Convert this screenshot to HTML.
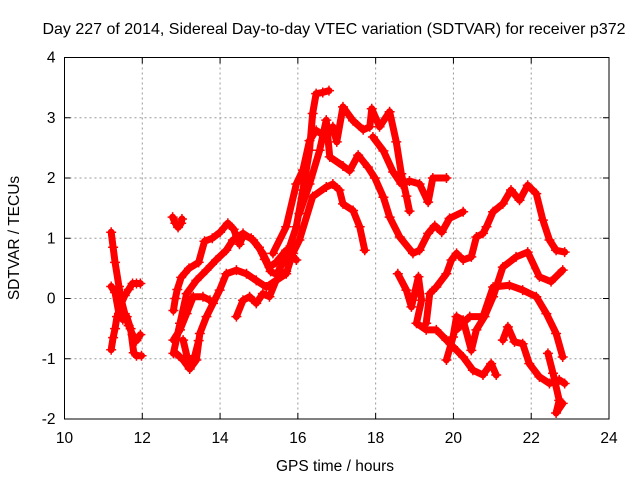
<!DOCTYPE html>
<html><head><meta charset="utf-8"><style>
body{margin:0;background:#fff;}
svg{display:block;font-family:"Liberation Sans",sans-serif;}
</style></head><body>
<svg id="chart" width="640" height="480" viewBox="0 0 640 480">
<text x="334" y="34" font-size="16" text-anchor="middle" fill="#000">Day 227 of 2014, Sidereal Day-to-day VTEC variation (SDTVAR) for receiver p372</text>
<g id="grid"></g>
<g id="series"></g>
<rect x="64.5" y="57.5" width="544.5" height="361.5" fill="none" stroke="#000" stroke-width="1"/>
<g id="xticks"></g>
<g id="yticks"></g>
<text x="335" y="471" font-size="15.5" text-anchor="middle">GPS time / hours</text>
<text transform="translate(19,238) rotate(-90)" font-size="15.5" text-anchor="middle">SDTVAR / TECUs</text>
</svg>
<script>
const xTicks=[10,12,14,16,18,20,22,24];
const yTicks=[-2,-1,0,1,2,3,4];
const traceA1=[[11.2,1.1],[11.25,0.85],[11.3,0.6],[11.4,0.2],[11.45,0.0],[11.55,-0.25],[11.65,-0.45],[11.75,-0.6],[11.85,-0.7],[11.95,-0.6]];
const traceA2=[[11.2,-0.85],[11.25,-0.65],[11.3,-0.5],[11.35,-0.3],[11.45,-0.1],[11.55,0.05],[11.65,0.15],[11.75,0.25],[11.85,0.25],[11.95,0.25]];
const traceA3=[[11.2,0.2],[11.3,0.1],[11.4,-0.25],[11.5,-0.35],[11.6,-0.3],[11.7,-0.5],[11.78,-0.9],[11.85,-0.95],[11.98,-0.95]];
const traceB=[[12.78,1.35],[12.85,1.25],[12.92,1.18],[13.0,1.25],[13.02,1.32]];
const traceC=[[12.8,-0.2],[12.85,0.0],[12.9,0.15],[13.0,0.35],[13.2,0.5],[13.45,0.6],[13.6,0.95],[13.8,1.0],[14.0,1.1],[14.2,1.25],[14.35,1.15],[14.5,0.9],[14.6,1.05],[14.8,1.0],[15.0,0.85],[15.15,0.65],[15.3,0.45],[15.45,0.4],[15.7,0.69],[15.96,1.19],[16.13,1.8],[16.3,2.46],[16.38,3.07],[16.47,3.4],[16.64,3.42],[16.8,3.45]];
const traceI=[[12.8,-0.91],[12.97,-0.41],[13.14,0.08],[13.39,0.3],[13.65,0.47],[13.9,0.64],[14.16,0.8],[14.33,0.97],[14.59,1.08],[14.85,0.97],[15.1,0.75],[15.27,0.52],[15.44,0.6],[15.7,0.8],[15.96,0.64]];
const traceJ=[[12.85,-0.9],[13.05,-1.02],[13.22,-1.17],[13.39,-1.02],[13.48,-0.58],[13.65,-0.3],[13.82,-0.08],[13.99,0.14],[14.16,0.41],[14.42,0.47],[14.68,0.41],[14.93,0.3],[15.19,0.19],[15.44,0.3],[15.7,0.41],[15.87,0.75],[16.04,0.97],[16.38,1.69],[16.73,1.85],[16.9,1.9],[17.07,1.8],[17.16,1.57],[17.42,1.46],[17.59,1.19],[17.72,0.8]];
const traceK=[[12.8,-0.69],[12.97,-0.52],[13.14,-0.25],[13.31,0.03],[13.56,0.03],[13.74,-0.03]];
const traceK2=[[13.05,-0.69],[13.2,-1.1],[13.35,-0.95],[13.45,-0.7]];
const traceL=[[14.42,-0.3],[14.59,-0.03],[14.76,0.03],[14.93,-0.08],[15.1,0.08],[15.27,0.03],[15.44,0.3],[15.7,0.45]];
const traceD=[[15.36,0.75],[15.7,1.19],[15.96,1.9],[16.13,2.13],[16.3,2.62],[16.47,2.79],[16.73,2.68],[16.9,2.85],[17.0,2.6],[17.16,3.18],[17.42,2.95],[17.68,2.8],[17.85,2.85],[17.9,3.15],[18.1,2.85],[18.36,3.1],[18.53,2.6],[18.66,2.07],[18.79,1.7],[18.87,1.45]];
const traceD2=[[17.93,2.68],[18.2,2.45],[18.45,2.1],[18.66,1.9],[18.87,1.95],[19.13,1.9],[19.35,1.6],[19.47,2.0],[19.82,2.0]];
const traceM=[[16.04,1.41],[16.3,1.9],[16.56,2.46],[16.73,2.96],[16.82,2.35],[17.16,2.2],[17.33,2.12],[17.55,2.38],[17.8,2.18],[17.98,2.0],[18.2,1.68],[18.36,1.35],[18.62,1.02],[18.96,0.75],[19.13,0.8],[19.35,1.08],[19.52,1.21],[19.7,1.1],[19.9,1.33],[20.25,1.44]];
const traceE=[[18.57,0.41],[18.79,0.14],[18.92,-0.14],[19.1,0.36],[19.18,-0.03],[19.05,-0.41],[19.3,-0.52],[19.56,-0.52],[19.82,-0.69],[19.99,-0.8],[20.25,-0.97],[20.5,-1.19],[20.76,-1.27],[20.97,-1.08],[21.1,-1.27]];
const traceN=[[19.3,-0.41],[19.39,0.08],[19.56,0.19],[19.82,0.41],[19.95,0.64],[20.08,0.75],[20.25,0.64],[20.46,0.69],[20.59,1.02],[20.76,1.08],[20.85,1.19],[21.02,1.44],[21.27,1.57],[21.48,1.8],[21.7,1.63],[21.91,1.88],[22.13,1.74],[22.3,1.3],[22.47,0.97],[22.64,0.8],[22.86,0.77]];
const traceF=[[19.82,-1.02],[19.99,-0.64],[20.08,-0.3],[20.25,-0.36],[20.46,-0.86],[20.59,-0.52],[20.8,-0.3],[21.02,0.03],[21.27,0.52],[21.61,0.69],[21.91,0.77],[22.21,0.36],[22.51,0.28],[22.81,0.47]];
const traceG=[[20.08,-0.52],[20.42,-0.3],[20.76,-0.3],[21.02,0.19],[21.44,0.22],[21.78,0.14],[22.13,0.03],[22.39,-0.25],[22.64,-0.58],[22.81,-0.97]];
const traceH=[[21.27,-0.69],[21.4,-0.47],[21.57,-0.72],[21.78,-0.75],[21.95,-1.08],[22.21,-1.3],[22.47,-1.41],[22.72,-1.35],[22.86,-1.41]];
const traceH2=[[22.43,-0.91],[22.56,-1.24],[22.72,-1.69],[22.64,-1.9],[22.81,-1.74]];
const allTraces=[traceA1,traceA2,traceA3,traceB,traceC,traceI,traceJ,traceK,traceK2,traceL,traceD,traceD2,traceM,traceE,traceN,traceF,traceG,traceH,traceH2];

const L=64.5,R=609,T=57.5,B=419;
function xs(t){return L+(t-10)/14*(R-L);}
function ys(v){return B-(v+2)/6*(B-T);}
const NS='http://www.w3.org/2000/svg';
function mk(tag,attrs,parent){const e=document.createElementNS(NS,tag);for(const k in attrs)e.setAttribute(k,attrs[k]);parent.appendChild(e);return e;}
const grid=document.getElementById('grid'),xg=document.getElementById('xticks'),yg=document.getElementById('yticks'),sg=document.getElementById('series');
xTicks.forEach(t=>{const x=xs(t);
 if(t>10&&t<24){const g=mk('line',{x1:x,x2:x,y1:T,y2:B,stroke:'#999','stroke-dasharray':'2,3','stroke-width':1},grid);
 
 }
 mk('line',{x1:x,x2:x,y1:B,y2:B-6,stroke:'#000'},xg);
 mk('line',{x1:x,x2:x,y1:T,y2:T+6,stroke:'#000'},xg);
 const tx=mk('text',{x:x,y:B+24,'font-size':15.5,'text-anchor':'middle'},xg);tx.textContent=t;
 
 
});
yTicks.forEach(v=>{const y=ys(v);
 if(v>-2&&v<4){const g=mk('line',{x1:L,x2:R,y1:y,y2:y,stroke:'#999','stroke-dasharray':'2,3','stroke-width':1},grid);
 
 }
 mk('line',{x1:L,x2:L+6,y1:y,y2:y,stroke:'#000'},yg);
 mk('line',{x1:R,x2:R-6,y1:y,y2:y,stroke:'#000'},yg);
 const tx=mk('text',{x:L-9,y:y+5,'font-size':15.5,'text-anchor':'end'},yg);tx.textContent=v;
 
 
});
allTraces.forEach((tr,i)=>{
 const g=mk('g',{},sg);
 
 
 mk('polyline',{points:tr.map(p=>xs(p[0])+','+ys(p[1])).join(' '),fill:'none',stroke:'#f00','stroke-width':7,'stroke-linejoin':'round','stroke-linecap':'round'},g);
 tr.forEach(p=>{const x=xs(p[0]),y=ys(p[1]);
  const pl=mk('path',{d:`M${x-5},${y}H${x+5}M${x},${y-5}V${y+5}`,stroke:'#f00','stroke-width':1.5},g);
  
  
 });
});
</script>
</body></html>
